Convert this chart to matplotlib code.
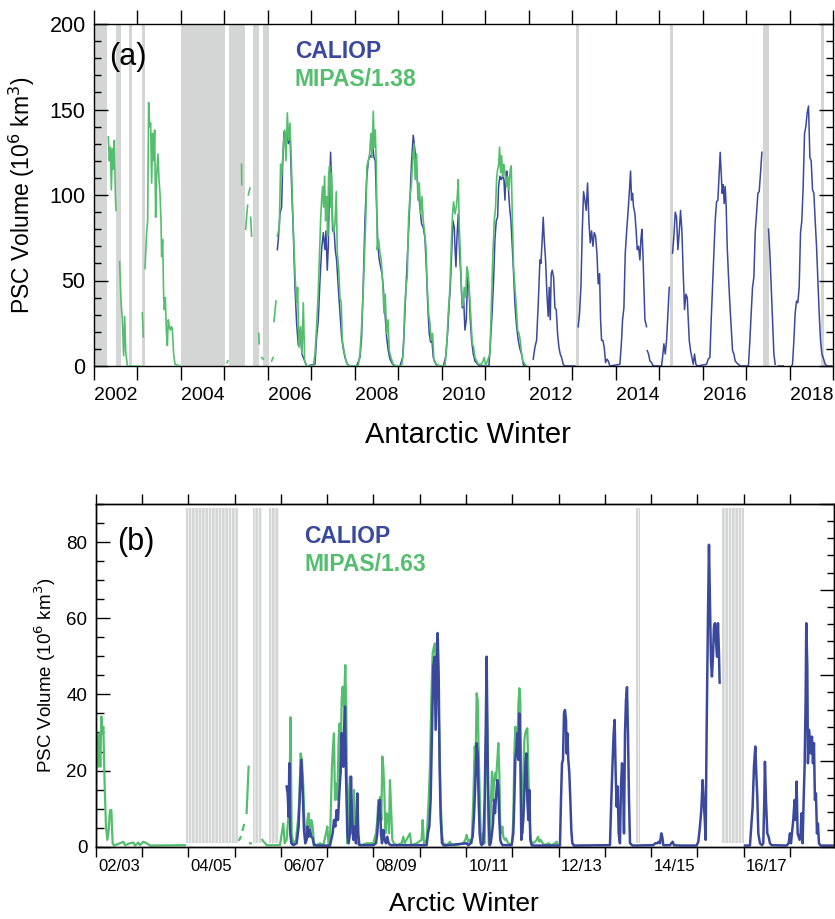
import numpy as np
import matplotlib
matplotlib.use('Agg')
import matplotlib.pyplot as plt
from matplotlib.ticker import MultipleLocator, FixedLocator, NullFormatter

plt.rcParams['font.family'] = ['Liberation Sans', 'DejaVu Sans']
plt.rcParams['hatch.linewidth'] = 0.5

nan = np.nan

BLUE = '#3a489e'
GREEN = '#55be6e'
GREY = '#d4d5d5'

# ---------------- (a) Antarctic: (decimal year, PSC volume 1e6 km3) ----------------
ant_caliop = [
    (2006.217, 68), (2006.240, 74), (2006.278, 89), (2006.316, 93), (2006.339, 117), (2006.370, 137),
    (2006.401, 132), (2006.431, 138), (2006.470, 130), (2006.508, 136), (2006.546, 105), (2006.585, 78),
    (2006.623, 46), (2006.661, 25), (2006.700, 12), (2006.723, 21), (2006.753, 17), (2006.784, 7),
    (2006.830, 4), (2006.891, 0), (2007.083, 1),
    (2007.121, 17), (2007.160, 27), (2007.198, 50), (2007.236, 68), (2007.275, 78), (2007.313, 68),
    (2007.336, 79), (2007.366, 56), (2007.390, 70), (2007.412, 101), (2007.443, 125), (2007.466, 105),
    (2007.489, 79), (2007.520, 81), (2007.550, 68), (2007.581, 62), (2007.619, 46), (2007.658, 31),
    (2007.696, 17), (2007.734, 10), (2007.773, 5), (2007.826, 1), (2007.888, 0), (2008.041, 0),
    (2008.118, 5), (2008.156, 17), (2008.194, 48), (2008.233, 85), (2008.271, 109), (2008.310, 120),
    (2008.348, 123), (2008.379, 122), (2008.409, 129), (2008.440, 122), (2008.470, 120), (2008.501, 93),
    (2008.532, 70), (2008.562, 62), (2008.593, 58), (2008.624, 54), (2008.654, 46), (2008.693, 31),
    (2008.731, 17), (2008.769, 9), (2008.808, 4), (2008.869, 1), (2008.923, 0), (2009.038, 0),
    (2009.099, 5), (2009.130, 17), (2009.160, 36), (2009.191, 54), (2009.229, 75), (2009.268, 97),
    (2009.306, 120), (2009.344, 135), (2009.375, 128), (2009.406, 120), (2009.436, 109), (2009.467, 101),
    (2009.498, 93), (2009.536, 83), (2009.574, 81), (2009.613, 75), (2009.651, 54), (2009.682, 33),
    (2009.712, 19), (2009.743, 14), (2009.774, 15), (2009.804, 5), (2009.866, 1), (2009.919, 0),
    (2010.035, 0), (2010.088, 5), (2010.134, 19), (2010.165, 34), (2010.196, 46), (2010.226, 66),
    (2010.257, 85), (2010.288, 81), (2010.303, 70), (2010.326, 58), (2010.349, 75), (2010.380, 89),
    (2010.410, 66), (2010.441, 52), (2010.472, 34), (2010.502, 40), (2010.533, 21), (2010.564, 27),
    (2010.594, 52), (2010.625, 46), (2010.656, 27), (2010.686, 15), (2010.725, 7), (2010.763, 3),
    (2010.824, 1), (2010.878, 0), (2011.085, 0),
    (2011.131, 19), (2011.162, 33), (2011.192, 50), (2011.223, 74), (2011.254, 85), (2011.284, 87),
    (2011.307, 105), (2011.338, 111), (2011.369, 109), (2011.399, 111), (2011.430, 109), (2011.453, 97),
    (2011.476, 113), (2011.499, 114), (2011.530, 105), (2011.560, 93), (2011.591, 85), (2011.622, 70),
    (2011.652, 54), (2011.683, 36), (2011.721, 23), (2011.760, 15), (2011.798, 10), (2011.836, 7),
    (2011.875, 1), (2011.913, 0), (nan, nan),
    (2012.104, 4), (2012.143, 11), (2012.181, 15), (2012.219, 36), (2012.258, 62), (2012.281, 60),
    (2012.311, 74), (2012.334, 87), (2012.357, 74), (2012.388, 62), (2012.419, 42), (2012.449, 29),
    (2012.472, 46), (2012.495, 27), (2012.518, 54), (2012.541, 56), (2012.572, 52), (2012.603, 34),
    (2012.633, 33), (2012.664, 19), (2012.695, 11), (2012.725, 7), (2012.756, 5), (2012.794, 1),
    (2012.833, 0), (2013.063, 0), (nan, nan),
    (2013.139, 23), (2013.170, 31), (2013.201, 46), (2013.231, 78), (2013.262, 102), (2013.293, 97),
    (2013.323, 91), (2013.354, 107), (2013.385, 85), (2013.415, 72), (2013.446, 79), (2013.477, 70),
    (2013.507, 78), (2013.538, 76), (2013.569, 66), (2013.599, 48), (2013.630, 54), (2013.653, 27),
    (2013.676, 15), (2013.707, 15), (2013.737, 11), (2013.768, 2), (2013.799, 4), (2013.829, 3),
    (2013.868, 0), (2014.098, 1),
    (2014.136, 15), (2014.159, 27), (2014.190, 34), (2014.221, 66), (2014.251, 78), (2014.282, 89),
    (2014.313, 101), (2014.343, 114), (2014.366, 97), (2014.389, 101), (2014.412, 93), (2014.443, 89),
    (2014.474, 78), (2014.497, 68), (2014.527, 70), (2014.558, 62), (2014.581, 74), (2014.604, 80),
    (2014.627, 66), (2014.650, 46), (2014.673, 27), (2014.711, 23), (nan, nan),
    (2014.727, 9), (2014.757, 7), (2014.788, 3), (2014.826, 2), (2014.865, 0), (2015.056, 0),
    (2015.079, 5), (2015.110, 13), (2015.141, 7), (2015.171, 15), (2015.202, 31), (2015.233, 46), (nan, nan),
    (2015.309, 66), (2015.340, 76), (2015.371, 90), (2015.401, 87), (2015.432, 68), (2015.463, 78),
    (2015.493, 91), (2015.524, 79), (2015.555, 54), (2015.585, 33), (2015.616, 42), (2015.647, 40),
    (2015.670, 27), (2015.693, 15), (2015.723, 9), (2015.754, 5), (2015.785, 1), (2015.815, 7),
    (2015.846, 1), (2015.876, 0), (2016.091, 1),
    (2016.129, 4), (2016.168, 5), (2016.198, 27), (2016.229, 46), (2016.260, 66), (2016.290, 85),
    (2016.321, 96), (2016.352, 97), (2016.382, 113), (2016.405, 125), (2016.428, 113), (2016.451, 101),
    (2016.474, 106), (2016.497, 95), (2016.520, 105), (2016.543, 93), (2016.566, 70), (2016.597, 52),
    (2016.628, 36), (2016.658, 23), (2016.689, 9), (2016.720, 7), (2016.750, 3), (2016.781, 2),
    (2016.819, 1), (2016.873, 0), (2017.049, 0),
    (2017.057, 1), (2017.088, 15), (2017.118, 31), (2017.149, 46), (2017.180, 52), (2017.210, 78),
    (2017.241, 89), (2017.272, 101), (2017.302, 102), (2017.333, 113), (2017.364, 125), (nan, nan),
    (2017.517, 80), (2017.548, 66), (2017.578, 46), (2017.609, 27), (2017.640, 7), (2017.670, 1), (nan, nan),
    (2017.739, 0), (2017.855, 0), (nan, nan), (2018.046, 0),
    (2018.069, 1), (2018.100, 15), (2018.130, 31), (2018.161, 38), (2018.191, 37), (2018.222, 46),
    (2018.253, 78), (2018.283, 85), (2018.314, 105), (2018.345, 136), (2018.375, 140), (2018.406, 148),
    (2018.437, 152), (2018.468, 122), (2018.498, 120), (2018.529, 103), (2018.560, 101), (2018.590, 85),
    (2018.621, 70), (2018.652, 50), (2018.682, 31), (2018.713, 15), (2018.744, 7), (2018.774, 5),
    (2018.820, 1), (2018.866, 0), (2018.966, 0),
]

ant_mipas = [
    (2002.330, 134), (2002.353, 120), (2002.376, 128), (2002.399, 103), (2002.422, 127), (2002.445, 115),
    (2002.468, 132), (2002.491, 101), (2002.506, 91), (nan, nan),
    (2002.590, 61), (2002.621, 38), (2002.652, 27), (2002.682, 6), (2002.705, 29), (2002.728, 9),
    (2002.767, 0), (2002.905, 0), (2003.058, 0), (nan, nan),
    (2003.112, 31), (2003.135, 17), (nan, nan),
    (2003.173, 57), (2003.211, 78), (2003.234, 85), (2003.257, 154), (2003.280, 140), (2003.303, 142),
    (2003.326, 107), (2003.349, 136), (2003.372, 120), (2003.395, 138), (2003.418, 87), (2003.441, 111),
    (2003.472, 124), (2003.495, 109), (2003.518, 101), (2003.541, 85), (2003.556, 64), (2003.579, 74),
    (2003.602, 42), (2003.618, 33), (2003.640, 40), (2003.664, 21), (2003.687, 12), (2003.709, 27),
    (2003.732, 23), (2003.756, 21), (2003.779, 23), (2003.801, 22), (2003.832, 7), (2003.863, 1),
    (2003.978, 0), (nan, nan),
    (2005.060, 2), (2005.080, 3), (nan, nan), (2005.394, 118), (2005.400, 106), (nan, nan),
    (2005.490, 80), (2005.519, 90), (2005.534, 94), (nan, nan), (2005.549, 100), (2005.588, 104), (nan, nan),
    (2005.603, 87), (2005.626, 76), (nan, nan), (2005.790, 19), (2005.800, 13), (nan, nan),
    (2005.856, 5), (2005.894, 4), (nan, nan), (2006.086, 3), (2006.124, 5), (nan, nan),
    (2006.140, 26), (2006.186, 38), (nan, nan),
    (2006.217, 76), (2006.263, 81), (2006.293, 118), (2006.316, 111), (2006.355, 128), (2006.385, 138),
    (2006.416, 120), (2006.447, 148), (2006.477, 132), (2006.508, 142), (2006.539, 120), (2006.569, 93),
    (2006.600, 70), (2006.631, 50), (2006.661, 37), (2006.684, 46), (2006.715, 11), (2006.753, 23),
    (2006.784, 7), (2006.815, 37), (2006.845, 3), (2006.891, 0), (2007.045, 0),
    (2007.083, 7), (2007.121, 23), (2007.160, 44), (2007.183, 62), (2007.213, 85), (2007.236, 97),
    (2007.259, 105), (2007.282, 93), (2007.305, 111), (2007.328, 85), (2007.351, 99), (2007.374, 76),
    (2007.397, 111), (2007.420, 117), (2007.443, 93), (2007.466, 113), (2007.489, 85), (2007.512, 78),
    (2007.543, 83), (2007.573, 102), (2007.596, 66), (2007.627, 58), (2007.658, 40), (2007.688, 37),
    (2007.711, 15), (2007.750, 9), (2007.796, 3), (2007.849, 0), (2008.079, 0),
    (2008.118, 7), (2008.156, 23), (2008.194, 44), (2008.225, 66), (2008.256, 89), (2008.279, 117),
    (2008.310, 120), (2008.340, 124), (2008.371, 136), (2008.394, 122), (2008.424, 149), (2008.447, 128),
    (2008.470, 138), (2008.493, 118), (2008.516, 68), (2008.547, 74), (2008.578, 66), (2008.608, 62),
    (2008.639, 50), (2008.670, 31), (2008.700, 42), (2008.731, 19), (2008.762, 27), (2008.792, 9),
    (2008.831, 5), (2008.884, 1), (2008.961, 0), (2009.076, 0),
    (2009.114, 7), (2009.145, 33), (2009.176, 46), (2009.206, 52), (2009.237, 87), (2009.268, 99),
    (2009.298, 105), (2009.329, 120), (2009.360, 130), (2009.390, 109), (2009.421, 124), (2009.452, 97),
    (2009.482, 107), (2009.513, 89), (2009.544, 99), (2009.574, 85), (2009.605, 78), (2009.636, 70),
    (2009.666, 46), (2009.697, 31), (2009.728, 25), (2009.758, 15), (2009.789, 19), (2009.820, 3),
    (2009.881, 1), (2009.958, 0),
    (2010.073, 0), (2010.111, 11), (2010.150, 31), (2010.188, 46), (2010.226, 76), (2010.249, 89),
    (2010.272, 96), (2010.303, 89), (2010.334, 93), (2010.357, 99), (2010.380, 109), (2010.403, 81),
    (2010.426, 66), (2010.456, 42), (2010.487, 35), (2010.518, 46), (2010.548, 40), (2010.579, 58),
    (2010.610, 54), (2010.640, 42), (2010.671, 27), (2010.702, 13), (2010.732, 11), (2010.763, 5),
    (2010.801, 3), (2010.840, 1), (2010.916, 1), (2010.978, 5), (2011.008, 0),
    (2011.108, 7), (2011.131, 27), (2011.154, 46), (2011.177, 66), (2011.208, 85), (2011.238, 93),
    (2011.261, 109), (2011.284, 115), (2011.307, 117), (2011.330, 128), (2011.353, 113), (2011.376, 123),
    (2011.399, 111), (2011.422, 118), (2011.445, 115), (2011.468, 109), (2011.491, 105), (2011.514, 111),
    (2011.545, 103), (2011.575, 115), (2011.598, 117), (2011.622, 89), (2011.652, 58), (2011.683, 46),
    (2011.714, 35), (2011.744, 21), (2011.775, 19), (2011.805, 15), (2011.836, 7), (2011.867, 3),
    (2011.913, 1), (2011.951, 0),
]

ant_gaps = [(2002.0, 2002.307), (2002.506, 2002.613), (2002.813, 2002.882), (2003.112, 2003.181),
            (2003.993, 2005.013), (2005.105, 2005.396), (2005.41, 2005.465), (2005.665, 2005.795),
            (2005.887, 2006.03), (2013.093, 2013.155), (2015.248, 2015.317), (2017.387, 2017.525),
            (2018.721, 2018.782)]

ant_years = ['2002', '2004', '2006', '2008', '2010', '2012', '2014', '2016', '2018']

# ---------------- (b) Arctic ----------------
arc_caliop = [
    (2006.625, 15.8), (2006.647, 14), (2006.668, 7.9), (2006.683, 21.9), (2006.704, 3.5), (2006.726, 0.9),
    (2006.769, 0.4), (2006.841, 0.9), (2006.884, 5.3), (2006.913, 14.9), (2006.942, 22.8), (2006.971, 14.9),
    (2007.000, 4.4), (2007.028, 0.9), (2007.057, 1.8), (2007.079, 5.3), (2007.100, 2.6), (2007.129, 4.4),
    (2007.158, 2.6), (2007.187, 2.2), (2007.216, 0.4), (2007.273, 0.3), (2007.561, 0.3), (2007.619, 3.5),
    (2007.648, 7), (2007.676, 5.3), (2007.705, 9.6), (2007.734, 7), (2007.763, 14), (2007.792, 20.1),
    (2007.813, 29.8), (2007.835, 25.4), (2007.849, 21), (2007.864, 29.8), (2007.885, 36.8), (2007.907, 19.3),
    (2007.936, 3.5), (2007.964, 0.9), (2007.993, 3.5), (2008.015, 18.4), (2008.036, 7.9), (2008.065, 1.8),
    (2008.094, 5.3), (2008.123, 0.9), (2008.152, 14), (2008.173, 3.5), (2008.195, 0.4), (2008.497, 0.4),
    (2008.555, 0.9), (2008.584, 3.5), (2008.613, 10.5), (2008.641, 12.3), (2008.663, 3.5), (2008.685, 0.9),
    (2008.713, 4.4), (2008.742, 1.8), (2008.771, 0.9), (2008.800, 2.6), (2008.829, 0.9), (2008.872, 0.4),
    (2009.649, 0.4), (2009.678, 3.5), (2009.707, 5.3), (2009.736, 12.3), (2009.765, 29.8), (2009.793, 47.3),
    (2009.822, 49.9), (2009.844, 30.7), (2009.866, 43.8), (2009.887, 56.1), (2009.909, 45.5), (2009.930, 21),
    (2009.952, 7.9), (2009.981, 0.9), (2010.024, 0.3), (2010.514, 0.9), (2010.550, 0.4), (2010.600, 0.9),
    (2010.644, 2.6), (2010.672, 7.9), (2010.701, 16.6), (2010.730, 27.2), (2010.752, 24.5), (2010.773, 12.3),
    (2010.795, 3.5), (2010.817, 0.9), (2010.838, 0.4), (2010.874, 0.9), (2010.903, 12.3), (2010.925, 29.8),
    (2010.946, 49.9), (2010.968, 22.8), (2010.989, 7.9), (2011.011, 0.4), (2011.033, 0.9), (2011.061, 3.5),
    (2011.083, 6.1), (2011.105, 12.3), (2011.126, 8.8), (2011.148, 13.1), (2011.177, 17.5), (2011.198, 15.8),
    (2011.220, 7), (2011.241, 1.8), (2011.263, 0.9), (2011.292, 0.4), (2011.486, 0.4), (2011.522, 3.5),
    (2011.544, 12.3), (2011.565, 22.8), (2011.587, 25.4), (2011.609, 29.8), (2011.630, 22.8), (2011.652, 35),
    (2011.673, 24.5), (2011.695, 1.8), (2011.717, 4.4), (2011.738, 7), (2011.760, 14), (2011.781, 21),
    (2011.803, 24.5), (2011.825, 12.3), (2011.846, 7), (2011.868, 14.9), (2011.889, 1.8), (2011.918, 0.4),
    (2011.954, 0.3), (2012.530, 0.3), (2012.552, 12.3), (2012.574, 21.9), (2012.595, 22.8), (2012.617, 35),
    (2012.638, 35.9), (2012.660, 33.3), (2012.674, 24.5), (2012.689, 29.8), (2012.710, 22.8), (2012.732, 19.3),
    (2012.754, 12.3), (2012.775, 4.4), (2012.797, 0.9), (2012.833, 0.3), (2013.610, 0.4), (2013.639, 12.3),
    (2013.668, 22.8), (2013.690, 29.8), (2013.711, 33.3), (2013.733, 19.3), (2013.755, 10.5), (2013.776, 15.8),
    (2013.798, 3.5), (2013.826, 0.9), (2013.848, 15.8), (2013.870, 21.9), (2013.891, 19.3), (2013.913, 3.5),
    (2013.935, 29.8), (2013.956, 38.5), (2013.978, 41.9), (2013.999, 29.8), (2014.021, 12.3), (2014.043, 0.9),
    (2014.100, 0.3), (2014.546, 0.4), (2014.589, 0.9), (2014.633, 0.9), (2014.661, 1.3), (2014.690, 0.9),
    (2014.719, 3.5), (2014.740, 2.6), (2014.762, 0.4), (2014.906, 0.4), (2014.964, 1.3), (2014.993, 0.4),
    (2015.122, 0.3), (2015.482, 0.3), (2015.518, 1.3), (2015.554, 5.3), (2015.583, 9.6), (2015.612, 17.5),
    (2015.633, 12.3), (2015.655, 7.9), (2015.677, 1.8), (2015.698, 29.8), (2015.727, 60.4), (2015.749, 79.3),
    (2015.770, 64.8), (2015.792, 49), (2015.813, 44.7), (2015.835, 49.9), (2015.857, 57.8), (2015.878, 58.7),
    (2015.900, 54.3), (2015.922, 49.9), (2015.943, 58.7), (2015.965, 50.8), (2015.979, 43.1), (nan, nan),
    (2016.526, 0.3), (2016.634, 0.3), (2016.663, 5.3), (2016.692, 10.5), (2016.721, 21), (2016.750, 26.3),
    (2016.771, 19.3), (2016.793, 13.1), (2016.815, 3.5), (2016.850, 0.9), (2016.894, 0.4), (2016.922, 0.9),
    (2016.944, 12.3), (2016.958, 22.3), (2016.980, 12.3), (2017.009, 3.5), (2017.038, 2.6), (2017.066, 0.9),
    (2017.102, 0.4), (2017.426, 0.3), (2017.470, 0.9), (2017.498, 3.5), (2017.520, 0.9), (2017.542, 3.5),
    (2017.570, 7), (2017.599, 12.3), (2017.621, 7), (2017.642, 17.1), (2017.664, 3.5), (2017.686, 2.6),
    (2017.707, 1.8), (2017.729, 3.5), (2017.750, 8.8), (2017.772, 0.9), (2017.794, 12.3), (2017.815, 21),
    (2017.837, 38.5), (2017.851, 58.7), (2017.873, 47.3), (2017.887, 21.9), (2017.909, 30.7), (2017.930, 28),
    (2017.952, 24.5), (2017.974, 28.9), (2017.995, 21.9), (2018.017, 27.2), (2018.038, 12.3), (2018.060, 14),
    (2018.082, 3.5), (2018.103, 6.1), (2018.125, 0.9), (2018.161, 0.3), (2018.449, 0.3),
]

arc_mipas = [
    (2002.506, 3.5), (2002.521, 29.8), (2002.550, 21), (2002.578, 29.8), (2002.600, 21), (2002.622, 34.2),
    (2002.643, 29.8), (2002.665, 31.5), (2002.694, 15.8), (2002.722, 5.3), (2002.751, 1.8), (2002.780, 4.4),
    (2002.809, 9.6), (2002.838, 9.6), (2002.866, 0.9), (2002.895, 0.3), (2003.025, 0.9), (2003.097, 1.3),
    (2003.133, 0.4), (2003.241, 0.9), (2003.313, 1.1), (2003.349, 0.3), (2003.421, 1.1), (2003.457, 0.4),
    (2003.529, 1.3), (2003.601, 0.9), (2003.673, 0.3), (2004.429, 0.4), (nan, nan),
    (2005.602, 1.8), (2005.631, 2.5), (nan, nan), (2005.674, 4.4), (2005.703, 5.7), (nan, nan),
    (2005.760, 8.8), (2005.803, 21), (nan, nan), (2005.832, 0.9), (2005.854, 0.9), (nan, nan),
    (2006.100, 1.8), (2006.128, 1.3), (2006.164, 0.9), (2006.193, 0.4), (2006.301, 0.4), (2006.481, 0.4),
    (2006.553, 6.1), (2006.582, 0.9), (2006.625, 1.8), (2006.661, 7.9), (2006.683, 12.3), (2006.711, 34),
    (2006.733, 3.5), (2006.769, 0.9), (2006.827, 1.8), (2006.870, 7), (2006.899, 12.3), (2006.927, 24.5),
    (2006.956, 22.8), (2006.985, 15.8), (2007.014, 5.3), (2007.043, 1.8), (2007.072, 7), (2007.100, 8.8),
    (2007.129, 3.5), (2007.158, 7), (2007.187, 5.3), (2007.216, 0.9), (2007.273, 0.4), (2007.345, 0.9),
    (2007.417, 0.4), (2007.475, 3.5), (2007.504, 5.3), (2007.532, 0.4), (2007.561, 0.9), (2007.604, 21),
    (2007.626, 26.3), (2007.648, 29.8), (2007.669, 12.3), (2007.691, 16.6), (2007.720, 12.3), (2007.748, 28),
    (2007.770, 32.4), (2007.792, 19.3), (2007.813, 38.5), (2007.835, 42), (2007.864, 36.8), (2007.892, 47.7),
    (2007.914, 35), (2007.936, 0.9), (2007.964, 12.3), (2007.993, 18.4), (2008.022, 3.5), (2008.051, 5.3),
    (2008.080, 14.9), (2008.108, 3.5), (2008.137, 0.9), (2008.245, 0.4), (2008.353, 0.9), (2008.497, 0.9),
    (2008.555, 3.5), (2008.584, 7), (2008.605, 12.3), (2008.627, 7), (2008.649, 13.1), (2008.670, 7),
    (2008.692, 23.7), (2008.713, 21), (2008.735, 14.9), (2008.757, 3.5), (2008.785, 8.8), (2008.814, 7.9),
    (2008.836, 3.5), (2008.857, 17.5), (2008.879, 10.5), (2008.908, 1.8), (2008.944, 0.9), (2009.001, 0.4),
    (2009.109, 0.9), (2009.145, 2.6), (2009.174, 0.9), (2009.289, 3.5), (2009.318, 0.4), (2009.433, 0.9),
    (2009.541, 1.8), (2009.563, 7), (2009.592, 0.9), (2009.649, 1.8), (2009.693, 12.3), (2009.721, 21),
    (2009.750, 38.5), (2009.779, 50.8), (2009.808, 52.6), (2009.830, 53.4), (2009.851, 43.8), (2009.880, 45.5),
    (2009.902, 38.5), (2009.923, 29.8), (2009.952, 12.3), (2009.981, 3.5), (2010.009, 0.9), (2010.082, 0.4),
    (2010.154, 1.3), (2010.190, 0.4), (2010.298, 0.4), (2010.442, 0.9), (2010.485, 1.8), (2010.514, 3.1),
    (2010.550, 1.3), (2010.586, 1.8), (2010.622, 0.9), (2010.658, 12.3), (2010.687, 26.3), (2010.708, 22.8),
    (2010.730, 40.3), (2010.752, 38.5), (2010.773, 25.4), (2010.795, 14.9), (2010.817, 3.5), (2010.838, 0.9),
    (2010.860, 3.5), (2010.881, 0.9), (2010.903, 0.9), (2010.925, 21), (2010.946, 43.8), (2010.968, 22.8),
    (2010.989, 0.9), (2011.018, 0.4), (2011.040, 12.3), (2011.061, 19.7), (2011.083, 12.3), (2011.105, 16.6),
    (2011.126, 19.3), (2011.148, 17.5), (2011.177, 22.8), (2011.198, 27.2), (2011.220, 19.3), (2011.241, 5.3),
    (2011.263, 3.5), (2011.285, 5.3), (2011.306, 2.6), (2011.335, 1.8), (2011.364, 2.2), (2011.393, 1.3),
    (2011.421, 0.9), (2011.450, 0.4), (2011.493, 0.9), (2011.522, 7), (2011.544, 24.5), (2011.565, 31.5),
    (2011.587, 29.8), (2011.609, 24.5), (2011.630, 36.8), (2011.652, 41.6), (2011.673, 38.5), (2011.695, 19.3),
    (2011.717, 3.5), (2011.738, 13.1), (2011.760, 28), (2011.781, 29.8), (2011.803, 30.7), (2011.825, 31.1),
    (2011.846, 21), (2011.868, 9.6), (2011.889, 3.5), (2011.911, 1.3), (2011.940, 0.9), (2011.990, 1.3),
    (2012.026, 1.8), (2012.055, 2.6), (2012.084, 1.3), (2012.113, 1.8), (2012.156, 0.9), (2012.206, 0.4),
    (2012.278, 0.9), (2012.350, 0.4), (2012.422, 0.9), (2012.458, 1.3), (2012.487, 0.4),
]

arc_gaps = [(2004.45, 2005.573), (2005.89, 2006.10), (2006.243, 2006.452),
            (2014.164, 2014.258), (2016.02, 2016.51)]

arc_winters = ['02/03', '04/05', '06/07', '08/09', '10/11', '12/13', '14/15', '16/17']

W, H = 835, 919
fig = plt.figure(figsize=(W / 100, H / 100), dpi=100)


def fx(px):
    return px / W


def fy(py):
    return 1 - py / H


ax1 = fig.add_axes([fx(94), fy(366), fx(833 - 94), (366 - 24) / H])
ax2 = fig.add_axes([fx(95.7), fy(846.7), fx(834 - 95.7), (846.7 - 504) / H])

# ---------- panel (a) ----------
for a, b in ant_gaps:
    ax1.axvspan(a, b, color=GREY, lw=0, zorder=0)
t, v = np.array(ant_caliop, dtype=float).T
ax1.plot(t, v, color=BLUE, lw=1.1, zorder=2)
t, v = np.array(ant_mipas, dtype=float).T
ax1.plot(t, v, color=GREEN, lw=1.2, zorder=3)

ax1.set_xlim(2002, 2019)
ax1.set_ylim(0, 200)
ax1.xaxis.set_major_locator(MultipleLocator(1))
ax1.xaxis.set_major_formatter(NullFormatter())
ax1.set_xticks([int(y) + 0.5 for y in ant_years], ant_years, minor=True)
ax1.tick_params(axis='x', which='major', direction='out', length=10, width=1, top=True, bottom=True)
ax1.tick_params(axis='x', which='minor', length=0, pad=15, labelsize=14)
ax1.yaxis.set_major_locator(MultipleLocator(50))
ax1.yaxis.set_minor_locator(MultipleLocator(10))
ax1.tick_params(axis='y', which='both', direction='in', left=True, right=True, width=1)
ax1.tick_params(axis='y', which='major', length=10, labelsize=15.5, pad=6)
ax1.tick_params(axis='y', which='minor', length=5)
ax1.set_ylabel('PSC Volume (10$^{6}$ km$^{3}$)', fontsize=16.5)
ax1.yaxis.set_label_coords(-0.077, 0.5)
for s in ax1.spines.values():
    s.set_linewidth(1.0)

fig.text(fx(109), fy(64.6), '(a)', fontsize=22, va='baseline')
fig.text(fx(295), fy(58.3), 'CALIOP', fontsize=16.5, fontweight='bold', color=BLUE, va='baseline')
fig.text(fx(295), fy(86), 'MIPAS/1.38', fontsize=16.5, fontweight='bold', color=GREEN, va='baseline')
fig.text(fx(468), fy(443), 'Antarctic Winter', fontsize=21, ha='center', va='baseline')

# ---------- panel (b) ----------
for a, b in arc_gaps:
    ax2.axvspan(a, b, ymin=0.012, ymax=0.988, facecolor=GREY, edgecolor='white',
                hatch='|||||', lw=0, zorder=0)
t, v = np.array(arc_mipas, dtype=float).T
ax2.plot(t, v, color=GREEN, lw=1.6, zorder=2)
t, v = np.array(arc_caliop, dtype=float).T
ax2.plot(t, v, color=BLUE, lw=1.8, zorder=3)

ax2.set_xlim(2002.5, 2018.45)
ax2.set_ylim(0, 90)
ax2.xaxis.set_major_locator(FixedLocator(np.arange(2002.5, 2018.5, 1.0)))
ax2.xaxis.set_major_formatter(NullFormatter())
ax2.set_xticks([2000 + int(w[3:]) for w in arc_winters], arc_winters, minor=True)
ax2.tick_params(axis='x', which='major', direction='out', length=7, width=1, top=True, bottom=True)
ax2.tick_params(axis='x', which='minor', length=0, pad=9, labelsize=12)
ax2.yaxis.set_major_locator(MultipleLocator(20))
ax2.yaxis.set_minor_locator(MultipleLocator(5))
ax2.tick_params(axis='y', which='both', direction='in', left=True, right=False, width=1)
ax2.tick_params(axis='y', which='major', length=10, labelsize=13.5, pad=6)
ax2.tick_params(axis='y', which='minor', length=5.5)
ax2.set_ylabel('PSC Volume (10$^{6}$ km$^{3}$)', fontsize=13.5)
ax2.yaxis.set_label_coords(-0.051, 0.5)
for s in ax2.spines.values():
    s.set_linewidth(1.0)

ax2r = ax2.twinx()
ax2r.set_ylim(0, 200)
ax2r.yaxis.set_major_locator(MultipleLocator(50))
ax2r.yaxis.set_minor_locator(MultipleLocator(10))
ax2r.yaxis.set_major_formatter(NullFormatter())
ax2r.tick_params(axis='y', which='both', direction='in', width=1)
ax2r.tick_params(axis='y', which='major', length=10)
ax2r.tick_params(axis='y', which='minor', length=5)
for s in ax2r.spines.values():
    s.set_linewidth(1.0)

fig.text(fx(117), fy(550.3), '(b)', fontsize=22, va='baseline')
fig.text(fx(304), fy(543.3), 'CALIOP', fontsize=16.5, fontweight='bold', color=BLUE, va='baseline')
fig.text(fx(304), fy(571), 'MIPAS/1.63', fontsize=16.5, fontweight='bold', color=GREEN, va='baseline')
fig.text(fx(464), fy(911), 'Arctic Winter', fontsize=19, ha='center', va='baseline')

fig.savefig('out.png', dpi=100)
